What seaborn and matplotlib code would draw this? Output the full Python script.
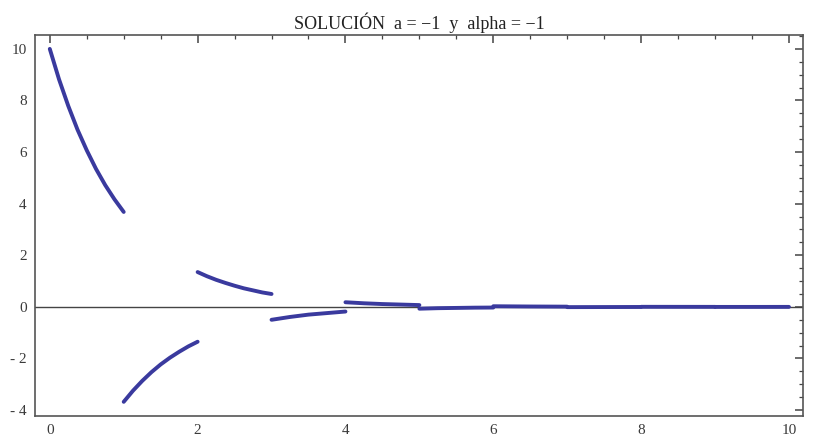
import numpy as np
import pandas as pd
import matplotlib
matplotlib.use("Agg")
import matplotlib.pyplot as plt
from matplotlib.ticker import MultipleLocator, FuncFormatter
import seaborn as sns

# Piecewise solution, one list of (x, y) samples per unit interval
seg_x = [
    [0.0, 0.125, 0.25, 0.375, 0.5, 0.625, 0.75, 0.875, 1.0],
    [1.0, 1.125, 1.25, 1.375, 1.5, 1.625, 1.75, 1.875, 2.0],
    [2.0, 2.125, 2.25, 2.375, 2.5, 2.625, 2.75, 2.875, 3.0],
    [3.0, 3.25, 3.5, 3.75, 4.0],
    [4.0, 4.25, 4.5, 4.75, 5.0],
    [5.0, 5.25, 5.5, 5.75, 6.0],
    [6.0, 6.5, 7.0],
    [7.0, 7.5, 8.0],
    [8.0, 8.5, 9.0],
    [9.0, 9.5, 10.0],
]
seg_y = [
    [10.0, 8.82, 7.79, 6.87, 6.07, 5.35, 4.72, 4.17, 3.68],
    [-3.68, -3.25, -2.87, -2.53, -2.23, -1.97, -1.74, -1.53, -1.35],
    [1.35, 1.19, 1.05, 0.93, 0.82, 0.72, 0.64, 0.56, 0.50],
    [-0.50, -0.39, -0.30, -0.24, -0.18],
    [0.18, 0.14, 0.11, 0.09, 0.07],
    [-0.07, -0.05, -0.04, -0.03, -0.025],
    [0.025, 0.015, 0.009],
    [-0.009, -0.006, -0.003],
    [0.003, 0.002, 0.001],
    [-0.001, -0.001, 0.0],
]

title = "SOLUCIÓN  a = \u22121  y  alpha = \u22121"

rows = []
for k, (xs, ys) in enumerate(zip(seg_x, seg_y)):
    for xv, yv in zip(xs, ys):
        rows.append({"x": xv, "y": yv, "seg": k})
df = pd.DataFrame(rows)

sns.set_theme(style="white")
plt.rcParams["font.family"] = ["Liberation Serif", "DejaVu Serif"]

fig = plt.figure(figsize=(8.14, 4.37), dpi=100)
ax = fig.add_axes([0.043, 0.048, 0.9435, 0.872])

ax.axhline(0, color="#444444", lw=1.0, zorder=1)
sns.lineplot(data=df, x="x", y="y", units="seg", estimator=None,
             color="#3a3a9e", lw=2.8, ax=ax, zorder=2,
             solid_capstyle="round", solid_joinstyle="round")

ax.set_xlim(-0.2, 10.19)
ax.set_ylim(-4.23, 10.54)
ax.set_xlabel("")
ax.set_ylabel("")
ax.set_title(title, fontsize=13, color="#222222", pad=4)

ax.xaxis.set_major_locator(MultipleLocator(2))
ax.xaxis.set_minor_locator(MultipleLocator(0.5))
ax.yaxis.set_major_locator(MultipleLocator(2))
ax.yaxis.set_minor_locator(MultipleLocator(0.5))


def fmt(v, pos):
    v = int(round(v))
    return f"- {abs(v)}" if v < 0 else f"{v}"


ax.xaxis.set_major_formatter(FuncFormatter(fmt))
ax.yaxis.set_major_formatter(FuncFormatter(fmt))

ax.tick_params(which="both", direction="in", top=True, right=True,
               color="#444444", labelsize=11, labelcolor="#3a3a3a")
ax.tick_params(which="major", length=6, width=1.1, pad=6)
ax.tick_params(which="minor", length=3, width=0.9)
for s in ax.spines.values():
    s.set_color("#555555")
    s.set_linewidth(1.2)

fig.savefig("out.png", dpi=100)
